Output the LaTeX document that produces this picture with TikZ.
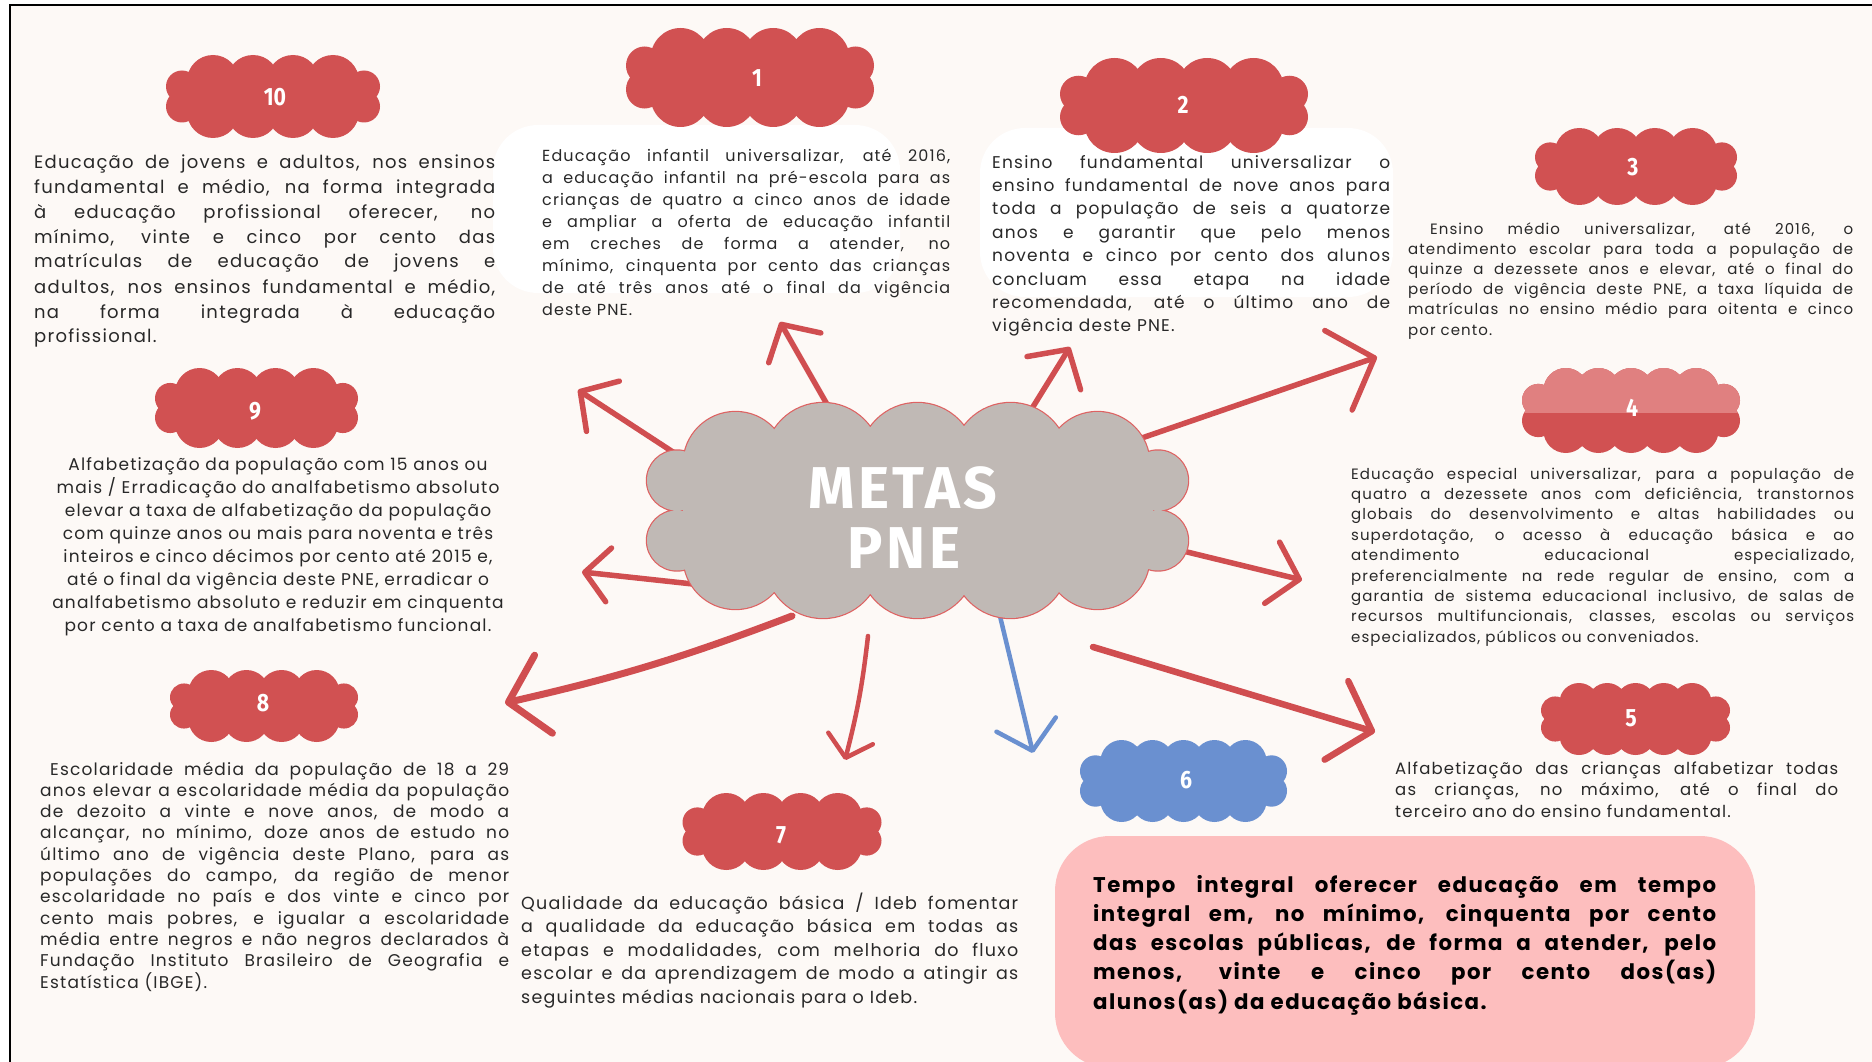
\documentclass[tikz,border=0pt]{standalone}
\usepackage{fontspec}
\setmainfont{Poppins}[LetterSpace=7]
\newfontfamily\numfont[FakeStretch=0.85]{Fira Sans}
\newfontfamily\hubfont[LetterSpace=6]{Fira Sans}
\usetikzlibrary{arrows.meta,calc}

\definecolor{paper}{RGB}{253,249,246}
\definecolor{cloudred}{RGB}{209,81,82}
\definecolor{cloudpink}{RGB}{224,128,128}
\definecolor{cloudblue}{RGB}{106,144,208}
\definecolor{hubgray}{RGB}{192,185,181}
\definecolor{hubline}{RGB}{222,98,98}
\definecolor{arrowred}{RGB}{208,78,80}
\definecolor{notepink}{RGB}{253,190,190}
\definecolor{ink}{RGB}{40,40,40}

% scalloped badge with four bumps on top and bottom
\newcommand\puffA[5]{%
  \begin{scope}[shift={(#1,#2)},xscale=#3/214,yscale=#4/83]
    \fill[#5] (-80,-15) rectangle (80,15);
    \fill[#5] (-60,-15.5) circle[radius=26] (-20,-15.5) circle[radius=26]
              (20,-15.5) circle[radius=26] (60,-15.5) circle[radius=26]
              (-60,15.5) circle[radius=26] (-20,15.5) circle[radius=26]
              (20,15.5) circle[radius=26] (60,15.5) circle[radius=26]
              (-91,-10) circle[radius=16] (-91,10) circle[radius=16]
              (91,-10) circle[radius=16] (91,10) circle[radius=16];
  \end{scope}}
% scalloped badge with five bumps on top and bottom
\newcommand\puffB[5]{%
  \begin{scope}[shift={(#1,#2)},xscale=#3/214,yscale=#4/83]
    \fill[#5] (-80,-18) rectangle (80,18);
    \fill[#5] (-64,-19.5) circle[radius=22] (-32,-19.5) circle[radius=22]
              (0,-19.5) circle[radius=22] (32,-19.5) circle[radius=22]
              (64,-19.5) circle[radius=22]
              (-64,19.5) circle[radius=22] (-32,19.5) circle[radius=22]
              (0,19.5) circle[radius=22] (32,19.5) circle[radius=22]
              (64,19.5) circle[radius=22]
              (-91,-10) circle[radius=16] (-91,10) circle[radius=16]
              (91,-10) circle[radius=16] (91,10) circle[radius=16];
  \end{scope}}
% outline of the central cloud
\newcommand\hubpath{(-182,-46.5) circle[radius=52] (-94.5,-49.5) circle[radius=58]
  (0,-49.5) circle[radius=58] (93,-49.5) circle[radius=58] (180,-46.5) circle[radius=52]
  (-182,46.5) circle[radius=52] (-94.5,49.5) circle[radius=58]
  (0,49.5) circle[radius=58] (93,49.5) circle[radius=58] (180,46.5) circle[radius=52]
  (-240.5,-30) circle[radius=30] (-240.5,30) circle[radius=30]
  (240.5,-30) circle[radius=30] (240.5,30) circle[radius=30]}

\tikzset{
  numlabel/.style={text=white, inner sep=0pt, font=\numfont\bfseries\fontsize{25}{25}\selectfont},
  hubtext/.style={anchor=base, inner sep=0pt, text=white, font=\hubfont\bfseries\fontsize{59}{59}\selectfont},
  body/.style={anchor=base west, inner sep=0pt, align=justify, text=ink},
  link/.style={draw=arrowred, line width=5.5pt, line cap=round},
  vhead/.style 2 args={-{Straight Barb[length=#1pt, width=#2pt, round]}},
}

\begin{document}
\tolerance=10000 \hbadness=10000 \hyphenpenalty=10000 \exhyphenpenalty=10000
\begin{tikzpicture}[x=1pt,y=-1pt]
\useasboundingbox (0,0) rectangle (1872,1062);
\clip (0,0) rectangle (1872,1062);

% page and frame
\fill[white] (0,0) rectangle (1872,1062);
\fill[paper] (10,5) rectangle (1872,1062);
\draw[black, line width=2.5pt] (10,1062) -- (10,5) -- (1872,5);

% white panels behind goals 1 and 2, pink panel of goal 6
\fill[white, rounded corners=45pt] (493,125) rectangle (900,293);
\fill[white, rounded corners=45pt] (980,128) rectangle (1393,297);
\fill[notepink, rounded corners=55pt] (1055,836) rectangle (1755,1068);

% connectors from the central cloud
\coordinate (t1) at (828,406);  \coordinate (h1) at (780,322);
\coordinate (t2) at (1031,410); \coordinate (h2) at (1070,347);
\coordinate (t3) at (1136,440); \coordinate (h3) at (1377,357);
\coordinate (t4) at (1183,551); \coordinate (h4) at (1302,580);
\coordinate (t5) at (1093,647); \coordinate (h5) at (1375,732);
\coordinate (t6) at (999,612);  \coordinate (h6) at (1033,753);
\coordinate (t7) at (868,636);  \coordinate (h7) at (845,760);
\coordinate (t8) at (792,616);  \coordinate (h8) at (505,703);
\coordinate (t9) at (702,585);  \coordinate (h9) at (582,572);
\coordinate (t10) at (676,454); \coordinate (h10) at (578,390);

\draw[link, vhead={27}{60}] (t1) -- (h1);
\draw[link, vhead={28}{63}] (t2) -- (h2);
\draw[link, vhead={38}{84}] (t3) -- (h3);
\draw[link, vhead={28}{63}] (t4) -- (h4);
\draw[link, line width=6.5pt, vhead={37}{82}] (t5) -- (h5);
\draw[link, draw=cloudblue, line width=4.5pt, vhead={27}{61}] (t6) -- (h6);
\draw[link, line width=4.5pt, vhead={20}{46}] (t7) to[bend left=4] (h7);
\draw[link, line width=7pt, vhead={36}{80}] (t8) to[bend left=4] (h8);
\draw[link, vhead={24}{54}] (t9) -- (h9);
\draw[link, vhead={27}{60}] (t10) -- (h10);

% central cloud
\begin{scope}[shift={(917.5,510.5)}]
  \draw[hubline, line width=2.4pt] \hubpath;
  \fill[hubgray] \hubpath;
  \fill[hubgray] (-235,-50) rectangle (235,50);
\end{scope}
\node[hubtext] (metas) at (903,508) {METAS};
\node[hubtext] (pne) at (904,568) {PNE};

% numbered badges
\puffA{273}{96.5}{214}{83}{cloudred}
\puffA{750}{77.5}{248}{99}{cloudred}
\puffA{1184}{105.5}{248}{95}{cloudred}
\puffA{1636}{166.5}{202}{77}{cloudred}
\puffB{1631}{410.5}{218}{85}{cloudred}
\begin{scope}
  \clip (1500,360) rectangle (1760,412);
  \puffB{1631}{410.5}{218}{85}{cloudpink}
\end{scope}
\puffB{1635.5}{719}{189}{72}{cloudred}
\puffB{1183.5}{781}{207}{82}{cloudblue}
\puffA{782}{831.5}{199}{77}{cloudred}
\puffA{264}{706}{188}{72}{cloudred}
\puffA{256.5}{408}{203}{80}{cloudred}

\node[numlabel] (n10) at (275,97) {10};
\node[numlabel] (n1) at (757,78) {1};
\node[numlabel] (n2) at (1183,105) {2};
\node[numlabel] (n3) at (1633,167) {3};
\node[numlabel] (n4) at (1632,408) {4};
\node[numlabel] (n5) at (1631,718) {5};
\node[numlabel] (n6) at (1186,780) {6};
\node[numlabel] (n7) at (781,835) {7};
\node[numlabel] (n8) at (263,703) {8};
\node[numlabel] (n9) at (255,411) {9};

% goal texts
\node[body, text width=461pt, font=\fontsize{18}{25}\selectfont] (b10) at (34,168)
 {Educação de jovens e adultos, nos ensinos\linebreak
  fundamental e médio, na forma integrada\linebreak
  à educação profissional oferecer, no\linebreak
  mínimo, vinte e cinco por cento das\linebreak
  matrículas de educação de jovens e\linebreak
  adultos, nos ensinos fundamental e médio,\linebreak
  na forma integrada à educação\linebreak
  profissional.};

\node[body, text width=408pt, font=\fontsize{16}{21.9}\selectfont] (b1) at (542,162)
 {Educação infantil universalizar, até 2016,\linebreak
  a educação infantil na pré-escola para as\linebreak
  crianças de quatro a cinco anos de idade\linebreak
  e ampliar a oferta de educação infantil\linebreak
  em creches de forma a atender, no\linebreak
  mínimo, cinquenta por cento das crianças\linebreak
  de até três anos até o final da vigência\linebreak
  deste PNE.};

\node[body, text width=398pt, font=\fontsize{17}{23.4}\selectfont] (b2) at (992,168)
 {Ensino fundamental universalizar o\linebreak
  ensino fundamental de nove anos para\linebreak
  toda a população de seis a quatorze\linebreak
  anos e garantir que pelo menos\linebreak
  noventa e cinco por cento dos alunos\linebreak
  concluam essa etapa na idade\linebreak
  recomendada, até o último ano de\linebreak
  vigência deste PNE.};

\node[body, text width=445pt, font=\fontsize{15}{20.2}\selectfont] (b3) at (1408,234)
 {\hspace*{22pt}Ensino médio universalizar, até 2016, o\linebreak
  atendimento escolar para toda a população de\linebreak
  quinze a dezessete anos e elevar, até o final do\linebreak
  período de vigência deste PNE, a taxa líquida de\linebreak
  matrículas no ensino médio para oitenta e cinco\linebreak
  por cento.};

\node[body, text width=503pt, font=\fontsize{15}{20.4}\selectfont] (b4) at (1351,479)
 {Educação especial universalizar, para a população de\linebreak
  quatro a dezessete anos com deficiência, transtornos\linebreak
  globais do desenvolvimento e altas habilidades ou\linebreak
  superdotação, o acesso à educação básica e ao\linebreak
  atendimento educacional especializado,\linebreak
  preferencialmente na rede regular de ensino, com a\linebreak
  garantia de sistema educacional inclusivo, de salas de\linebreak
  recursos multifuncionais, classes, escolas ou serviços\linebreak
  especializados, públicos ou conveniados.};

\node[body, text width=443pt, font=\fontsize{16.5}{21.5}\selectfont] (b5) at (1395,774)
 {Alfabetização das crianças alfabetizar todas\linebreak
  as crianças, no máximo, até o final do\linebreak
  terceiro ano do ensino fundamental.};

\node[body, text width=623pt, text=black, font=\bfseries\fontsize{21.3}{29.3}\selectfont] (b6) at (1093,892)
 {Tempo integral oferecer educação em tempo\linebreak
  integral em, no mínimo, cinquenta por cento\linebreak
  das escolas públicas, de forma a atender, pelo\linebreak
  menos, vinte e cinco por cento dos(as)\linebreak
  alunos(as) da educação básica.};

\node[body, text width=497pt, font=\fontsize{17.5}{23.5}\selectfont] (b7) at (521,909)
 {Qualidade da educação básica / Ideb fomentar\linebreak
  a qualidade da educação básica em todas as\linebreak
  etapas e modalidades, com melhoria do fluxo\linebreak
  escolar e da aprendizagem de modo a atingir as\linebreak
  seguintes médias nacionais para o Ideb.};

\node[body, text width=469pt, font=\fontsize{17}{21.3}\selectfont] (b8) at (40,775)
 {\hspace*{10pt}Escolaridade média da população de 18 a 29\linebreak
  anos elevar a escolaridade média da população\linebreak
  de dezoito a vinte e nove anos, de modo a\linebreak
  alcançar, no mínimo, doze anos de estudo no\linebreak
  último ano de vigência deste Plano, para as\linebreak
  populações do campo, da região de menor\linebreak
  escolaridade no país e dos vinte e cinco por\linebreak
  cento mais pobres, e igualar a escolaridade\linebreak
  média entre negros e não negros declarados à\linebreak
  Fundação Instituto Brasileiro de Geografia e\linebreak
  Estatística (IBGE).};

\node[body, anchor=base, align=center, text width=490pt, font=\fontsize{17}{23.1}\selectfont] (b9) at (278,470)
 {Alfabetização da população com 15 anos ou\\
  mais / Erradicação do analfabetismo absoluto\\
  elevar a taxa de alfabetização da população\\
  com quinze anos ou mais para noventa e três\\
  inteiros e cinco décimos por cento até 2015 e,\\
  até o final da vigência deste PNE, erradicar o\\
  analfabetismo absoluto e reduzir em cinquenta\\
  por cento a taxa de analfabetismo funcional.};
\end{tikzpicture}
\end{document}
